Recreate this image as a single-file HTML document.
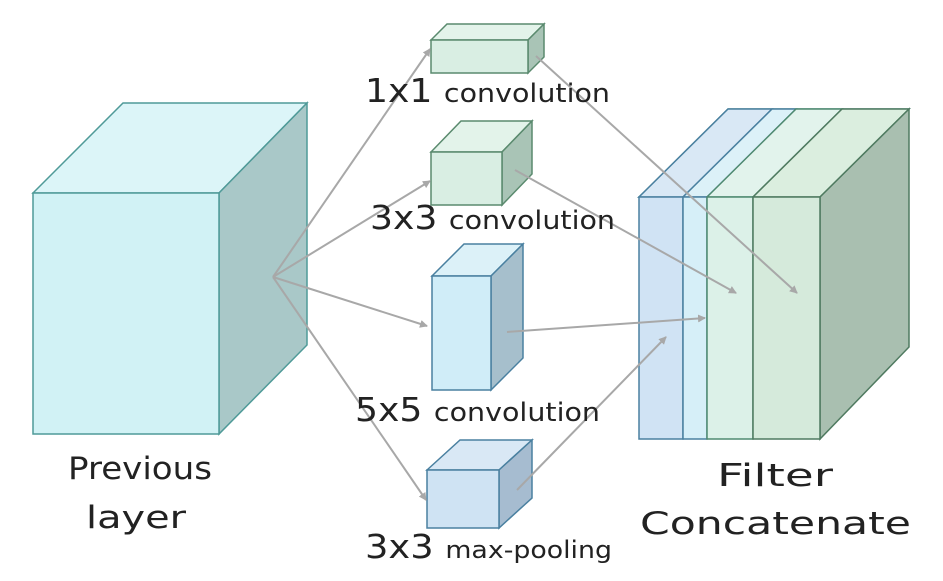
<!DOCTYPE html>
<html><head><meta charset="utf-8"><style>body{margin:0;background:#fff}svg{display:block}text{font-family:"DejaVu Sans","Liberation Sans",sans-serif;fill:#222}</style></head>
<body>
<svg width="943" height="581" viewBox="0 0 943 581" xmlns="http://www.w3.org/2000/svg">
<defs><marker id="a" markerWidth="8" markerHeight="8" refX="7" refY="4" orient="auto" markerUnits="userSpaceOnUse"><path d="M0,0 L8,4 L0,8 z" fill="#a8a8a8"/></marker></defs>
<g stroke="#4f9a98" stroke-width="1.5">
<polygon points="33,193 123,103 307,103 219,193" fill="#dcf5f8"/>
<polygon points="219,193 307,103 307,345 219,434" fill="#a9c8c8"/>
<rect x="33" y="193" width="186" height="241" fill="#d1f2f5"/>
</g>
<g stroke-width="1.5">
<polygon points="639,197 728,109 909,109 820,197" fill="#deeeea" stroke="#4f8a86"/>
<polygon points="639,197 728,109 772,109 683,197" fill="#d9e8f5" stroke="#4a80a0"/>
<polygon points="683,197 772,109 796,109 707,197" fill="#dcf1f8" stroke="#4a80a0"/>
<polygon points="707,197 796,109 842,109 753,197" fill="#e2f3ec" stroke="#4f8a70"/>
<polygon points="753,197 842,109 909,109 820,197" fill="#dbeedf" stroke="#4f7a60"/>
<polygon points="820,197 909,109 909,347 820,439" fill="#a9bfb0" stroke="#4f7a60"/>
<rect x="639" y="197" width="44" height="242" fill="#d0e3f4" stroke="#4a80a0"/>
<rect x="683" y="197" width="24" height="242" fill="#d6eff8" stroke="#4a80a0"/>
<rect x="707" y="197" width="46" height="242" fill="#dcf1e8" stroke="#4f8a70"/>
<rect x="753" y="197" width="67" height="242" fill="#d5eadb" stroke="#4f7a60"/>
</g>
<g stroke="#5a8a6e" stroke-width="1.5">
<polygon points="431,40 447,24 544,24 528,40" fill="#e3f3ea"/>
<polygon points="528,40 544,24 544,57 528,73" fill="#a9c4b6"/>
<rect x="431" y="40" width="97" height="33" fill="#d9eee3"/>
<polygon points="431,152 461,121 532,121 502,152" fill="#e3f3ea"/>
<polygon points="502,152 532,121 532,174 502,205" fill="#a9c4b6"/>
<rect x="431" y="152" width="71" height="53" fill="#d9eee3"/>
</g>
<g stroke="#4a80a0" stroke-width="1.5">
<polygon points="432,276 464,244 523,244 491,276" fill="#dcf1f8"/>
<polygon points="491,276 523,244 523,358 491,390" fill="#a6bfcc"/>
<rect x="432" y="276" width="59" height="114" fill="#d0edf8"/>
<polygon points="427,470 460,440 532,440 499,470" fill="#d9e8f5"/>
<polygon points="499,470 532,440 532,498 499,528" fill="#a6bcd0"/>
<rect x="427" y="470" width="72" height="58" fill="#cfe3f3"/>
</g>
<g stroke="#a8a8a8" stroke-width="2" fill="none" marker-end="url(#a)">
<line x1="273" y1="277" x2="430" y2="49"/>
<line x1="273" y1="277" x2="430" y2="181"/>
<line x1="273" y1="277" x2="427" y2="326"/>
<line x1="273" y1="277" x2="426" y2="500"/>
<line x1="536" y1="56" x2="797" y2="293"/>
<line x1="515" y1="170" x2="736" y2="293"/>
<line x1="507" y1="332" x2="705" y2="318"/>
<line x1="517" y1="490" x2="666" y2="337"/>
</g>
<text x="365" y="102" font-size="33" textLength="245" lengthAdjust="spacingAndGlyphs">1x1 <tspan font-size="26">convolution</tspan></text>
<text x="370" y="229" font-size="33" textLength="245" lengthAdjust="spacingAndGlyphs">3x3 <tspan font-size="26">convolution</tspan></text>
<text x="355" y="421" font-size="33" textLength="245" lengthAdjust="spacingAndGlyphs">5x5 <tspan font-size="26">convolution</tspan></text>
<text x="365" y="558" font-size="33" textLength="247" lengthAdjust="spacingAndGlyphs">3x3 <tspan font-size="24">max-pooling</tspan></text>
<text x="68" y="479" font-size="31" textLength="144" lengthAdjust="spacingAndGlyphs">Previous</text>
<text x="86" y="528" font-size="31" textLength="100" lengthAdjust="spacingAndGlyphs">layer</text>
<text x="717" y="486" font-size="31" textLength="116" lengthAdjust="spacingAndGlyphs">Filter</text>
<text x="640" y="534" font-size="31" textLength="271" lengthAdjust="spacingAndGlyphs">Concatenate</text>
</svg>
</body></html>
